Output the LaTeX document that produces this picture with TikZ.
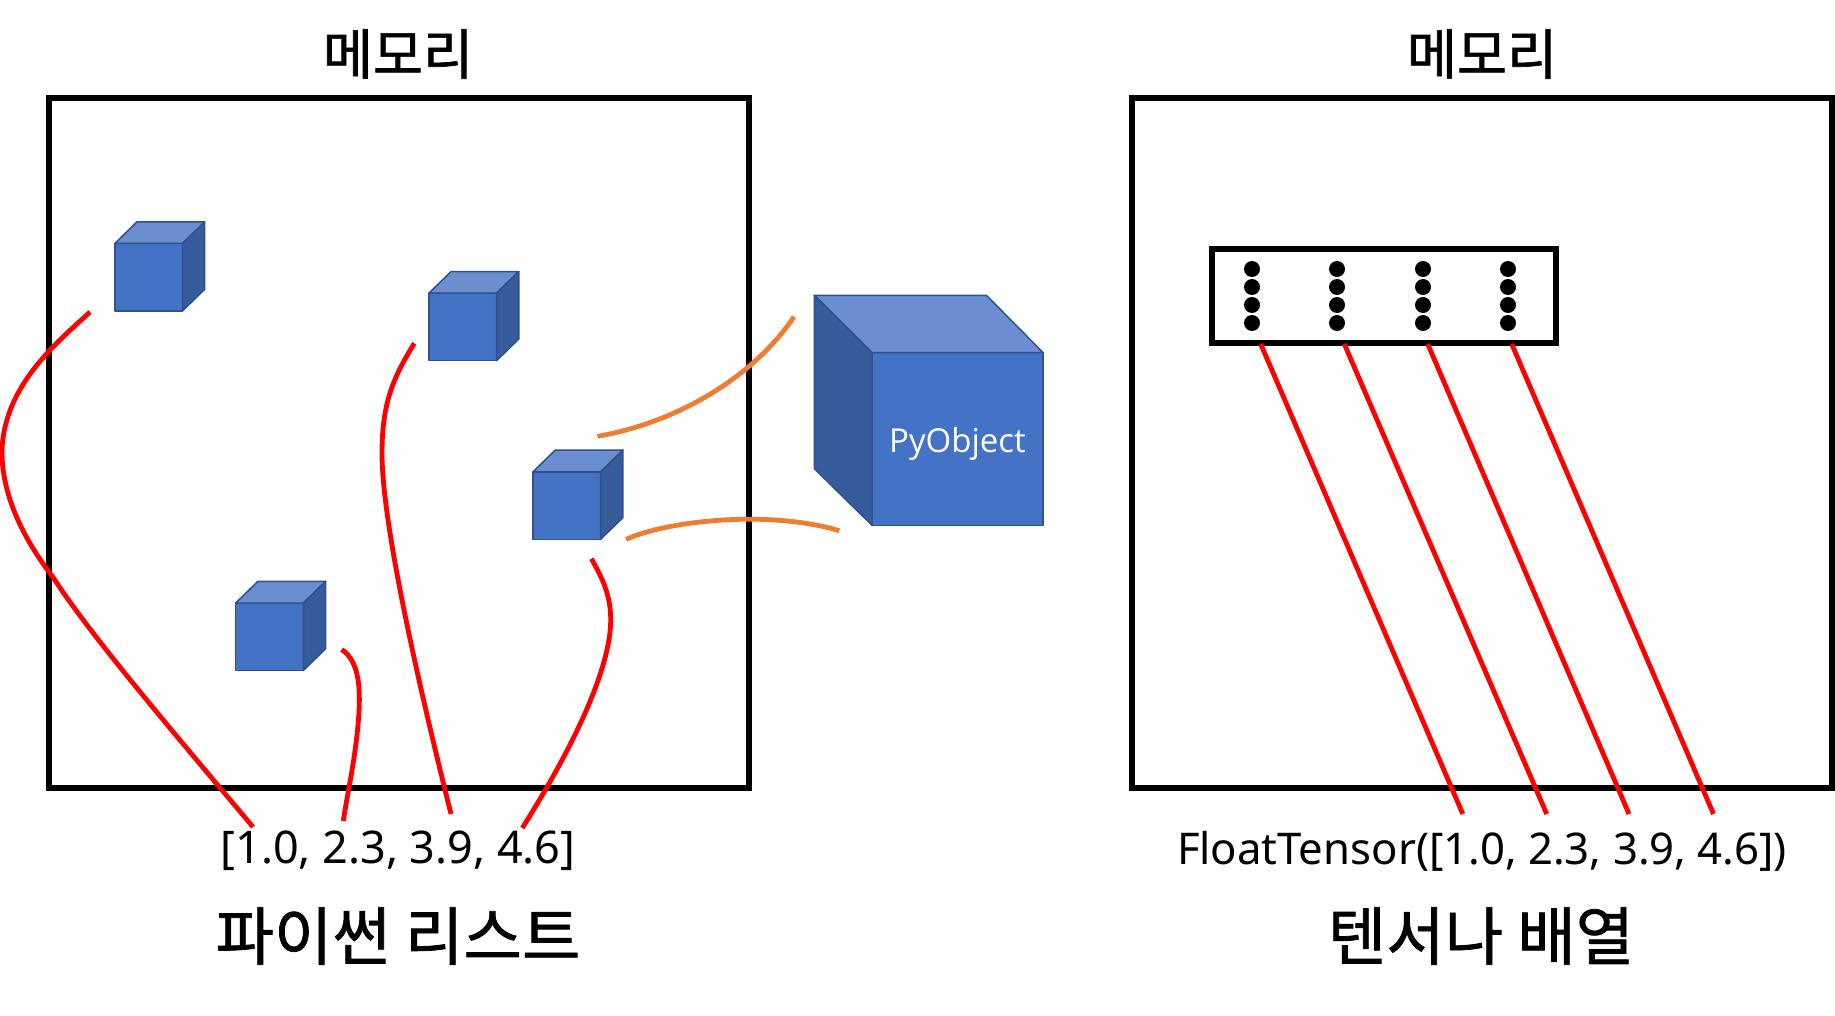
\documentclass[tikz,border=0pt]{standalone}
\usepackage{fontspec}
\setmainfont{Noto Sans}
\newfontfamily\krfont[RawFeature={embolden=1.2}]{Noto Sans CJK KR}
\newfontfamily\objfont{Open Sans}
\definecolor{cubefront}{HTML}{4472C4}
\definecolor{cubetop}{HTML}{6A8ECF}
\definecolor{cubeside}{HTML}{365C9C}
\definecolor{cubeline}{HTML}{2F528F}
\definecolor{linkorange}{HTML}{ED7D31}
\tikzset{
  memorybox/.style={draw=black,line width=6pt,rectangle,inner sep=0pt},
  valuedot/.style={circle,fill=black,inner sep=0pt,minimum size=16pt},
  redlink/.style={draw=red,line width=4.8pt},
  orangelink/.style={draw=linkorange,line width=4.8pt},
  facefront/.style={fill=cubefront,draw=cubeline,line width=1.5pt,line join=round},
  facetop/.style={fill=cubetop,draw=cubeline,line width=1.5pt,line join=round},
  faceside/.style={fill=cubeside,draw=cubeline,line width=1.5pt,line join=round},
  bigtitle/.style={inner sep=0pt,font=\krfont\fontsize{54.5}{62}\selectfont},
  captiontext/.style={inner sep=0pt,font=\krfont\fontsize{63.5}{72}\selectfont},
  valuetext/.style={inner sep=0pt,font=\fontsize{45}{54}\selectfont},
  tensortext/.style={inner sep=0pt,font=\fontsize{43.7}{54}\selectfont}
}
\newcommand{\smallcube}[3]{%
  \begin{scope}[shift={(#2,#3)}]
    \path[facefront] (0,0) rectangle (67.7,67.5);
    \path[facetop] (0,0) -- (22.2,-21.7) -- (89.9,-21.7) -- (67.7,0) -- cycle;
    \path[faceside] (67.7,0) -- (89.9,-21.7) -- (89.9,45.8) -- (67.7,67.5) -- cycle;
    \coordinate (#1) at (33.8,33.7);
  \end{scope}}
\begin{document}
\begin{tikzpicture}[x=1pt,y=-1pt]
\useasboundingbox (0,0) rectangle (1835,1016);
% memory frames
\node[memorybox,minimum width=700pt,minimum height=690pt] (leftmem) at (399,443) {};
\node[memorybox,minimum width=700pt,minimum height=690pt] (rightmem) at (1482,443) {};
\node[bigtitle] (lefttitle) at (398,54) {메모리};
\node[bigtitle] (righttitle) at (1482,54) {메모리};
% small cubes
\smallcube{cubeA}{114.8}{243.5}
\smallcube{cubeB}{428.9}{293.2}
\smallcube{cubeC}{533}{471.8}
\smallcube{cubeD}{235.7}{603}
% big cube
\path[facefront] (872,352.7) rectangle (1043.2,525.3);
\path[facetop] (814.3,295.3) -- (986.4,295.3) -- (1043.2,352.7) -- (872,352.7) -- cycle;
\path[faceside] (814.3,295.3) -- (872,352.7) -- (872,525.3) -- (814.3,468.7) -- cycle;
\node[inner sep=0pt,text=white,font=\objfont\fontsize{33}{40}\selectfont] (pyobject) at (957.5,444) {PyObject};
% tensor box
\node[memorybox,minimum width=343.7pt,minimum height=93.7pt] (tensorbox) at (1384.2,295.9) {};
\foreach \c/\x in {1/1252,2/1337,3/1423,4/1508}{
  \foreach \r/\y in {1/269,2/287,3/305,4/323}{
    \node[valuedot] (dot\c\r) at (\x,\y) {};
  }
}
% texts
\node[valuetext] (pylist) at (398,851) {[1.0, 2.3, 3.9, 4.6]};
\node[tensortext] (floattensor) at (1482,851) {FloatTensor([1.0, 2.3, 3.9, 4.6])};
\node[captiontext] (pycaption) at (398,936) {파이썬 리스트};
\node[captiontext] (tensorcaption) at (1481,936) {텐서나 배열};
% link end points
\coordinate (a1) at (90,312);
\coordinate (a2) at (253,827);
\coordinate (b1) at (414.3,343.3);
\coordinate (b2) at (451,814);
\coordinate (d1) at (341.7,649.5);
\coordinate (d2) at (343.3,821);
\coordinate (c1) at (591.4,558.7);
\coordinate (c2) at (522.3,828);
\coordinate (o1) at (597.5,436.3);
\coordinate (o2) at (794,316.7);
\coordinate (o3) at (626,539.3);
\coordinate (o4) at (839.3,530.7);
\foreach \n/\p/\q in {1/1260.7/1462.8,2/1344.3/1546.7,3/1427.7/1629,4/1511.7/1713.5}{
  \coordinate (t\n) at (\p,344);
  \coordinate (v\n) at (\q,814);
}
% red links
\draw[redlink] (a1) .. controls (60,340) and (3,385) .. (2,452) .. controls (2,500) and (28,545) .. (53.6,578) .. controls (90,635) and (180,740) .. (a2);
\draw[redlink] (b1) .. controls (395,375) and (382,400) .. (382,453) .. controls (382,530) and (425,710) .. (b2);
\draw[redlink] (d1) .. controls (360,662) and (362,690) .. (357,735) .. controls (353,770) and (348,790) .. (d2);
\draw[redlink] (c1) .. controls (605,583) and (616,605) .. (608,645) .. controls (598,695) and (565,760) .. (c2);
\foreach \n in {1,2,3,4}{\draw[redlink] (t\n) -- (v\n);}
% orange links
\draw[orangelink] (o1) .. controls (680,422) and (755,375) .. (o2);
\draw[orangelink] (o3) .. controls (670,520) and (770,510) .. (o4);
\end{tikzpicture}
\end{document}
